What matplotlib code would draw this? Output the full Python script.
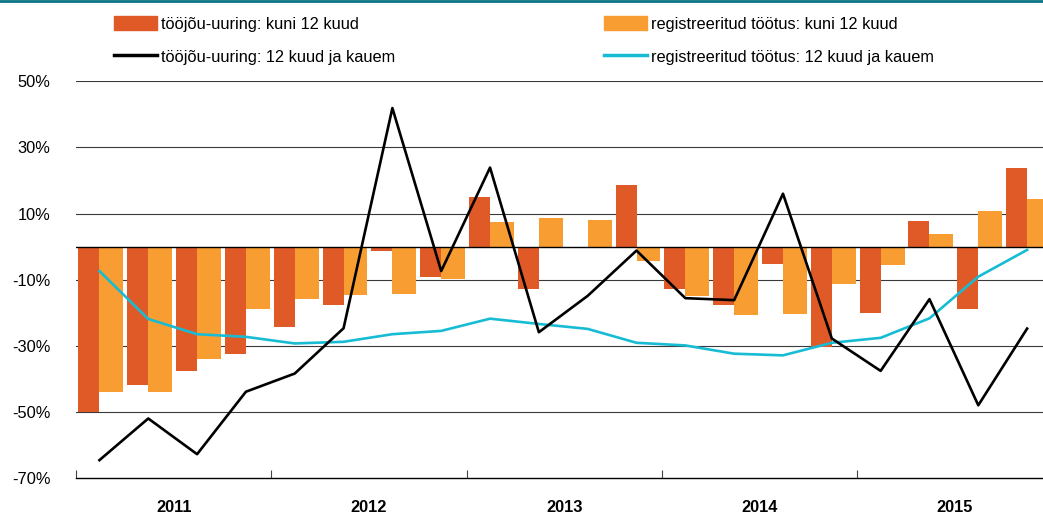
#! /usr/bin/env python3

import numpy as np
import matplotlib
matplotlib.use("Agg")
import matplotlib.pyplot as plt
from matplotlib.patches import Patch
from matplotlib.lines import Line2D

plt.rcParams['font.family'] = ['Liberation Sans', 'DejaVu Sans']

years = ['2011', '2012', '2013', '2014', '2015']

# quarterly changes, %
survey_short = [-50.0, -41.9, -37.5, -32.6, -24.2, -17.8, -1.3, -9.2, 15.1, -12.9,
                0.0, 18.7, -12.7, -17.7, -5.2, -30.5, -20.2, 7.6, -19.0, 23.8]
reg_short = [-44.1, -43.9, -34.1, -18.8, -15.8, -14.7, -14.4, -9.8, 7.4, 8.7,
             8.1, -4.5, -14.8, -20.7, -20.3, -11.3, -5.5, 3.7, 10.7, 14.4]
survey_long = [-64.6, -52.0, -62.8, -43.9, -38.4, -24.7, 41.9, -7.4, 23.9, -25.9,
               -14.9, -1.2, -15.6, -16.2, 16.0, -27.8, -37.6, -15.9, -48.0, -24.8]
reg_long = [-7.4, -21.9, -26.5, -27.3, -29.3, -28.8, -26.5, -25.5, -21.8, -23.4,
            -24.9, -29.1, -29.9, -32.4, -32.9, -29.1, -27.6, -21.7, -9.1, -1.0]

labels = ['tööjõu-uuring: kuni 12 kuud', 'tööjõu-uuring: 12 kuud ja kauem',
          'registreeritud töötus: kuni 12 kuud', 'registreeritud töötus: 12 kuud ja kauem']

c_dark = '#e05a28'
c_light = '#f89d32'
c_cyan = '#17bcd4'
fs = 11.8

fig = plt.figure(figsize=(10.43, 5.16), dpi=100)
ax = fig.add_axes([76 / 1043, 1 - 478 / 516, (1052.5 - 76) / 1043, (478 - 81.3) / 516])

q = np.arange(len(survey_short))
ax.bar(q + 0.05, survey_short, width=0.43, align='edge', color=c_dark, zorder=2)
ax.bar(q + 0.48, reg_short, width=0.49, align='edge', color=c_light, zorder=2)
ax.plot(q + 0.48, reg_long, color=c_cyan, lw=1.9, zorder=4)
ax.plot(q + 0.48, survey_long, color='black', lw=1.9, zorder=5)

ax.set_xlim(0, 20)
ax.set_ylim(-70, 50)
yt = np.arange(-70, 51, 20)
ax.set_yticks(yt)
ax.set_yticklabels(['%d%%' % v for v in yt], fontsize=fs)
for lab in ax.get_yticklabels():
    lab.set_verticalalignment('center_baseline')
for v in yt[1:]:
    ax.axhline(v, color='#3a3a3a', lw=0.8, zorder=1)
ax.axhline(0, color='black', lw=1.0, zorder=3)
ax.tick_params(axis='y', length=0, pad=18.5)

ax.set_xticks(np.arange(0, 21, 4))
ax.set_xticklabels([])
ax.tick_params(axis='x', direction='in', length=6, width=0.8, color='#444444')
for i, yr in enumerate(years):
    ax.text(i * 4 + 2, -79, yr, ha='center', va='center', fontsize=fs,
            fontweight='bold')

for s in ['left', 'right', 'top']:
    ax.spines[s].set_visible(False)
ax.spines['bottom'].set_color('black')
ax.spines['bottom'].set_linewidth(1.0)

# thin teal rule at the very top
fig.add_artist(Line2D([0, 1], [0.998, 0.998], color='#0b7386', lw=2.0))

handles = [Patch(color=c_dark), Line2D([], [], color='black', lw=2.5),
           Patch(color=c_light), Line2D([], [], color=c_cyan, lw=2.5)]
leg_kw = dict(loc='upper left', frameon=False, fontsize=fs, borderpad=0,
              borderaxespad=0, handlelength=2.6, handleheight=0.95,
              handletextpad=0.25, labelspacing=1.05)
fig.legend(handles[:2], labels[:2],
           bbox_to_anchor=(114 / 1043, 1 - 16 / 516), **leg_kw)
fig.legend(handles[2:], labels[2:],
           bbox_to_anchor=(604 / 1043, 1 - 16 / 516), **leg_kw)

fig.savefig('out.png', dpi=100)
